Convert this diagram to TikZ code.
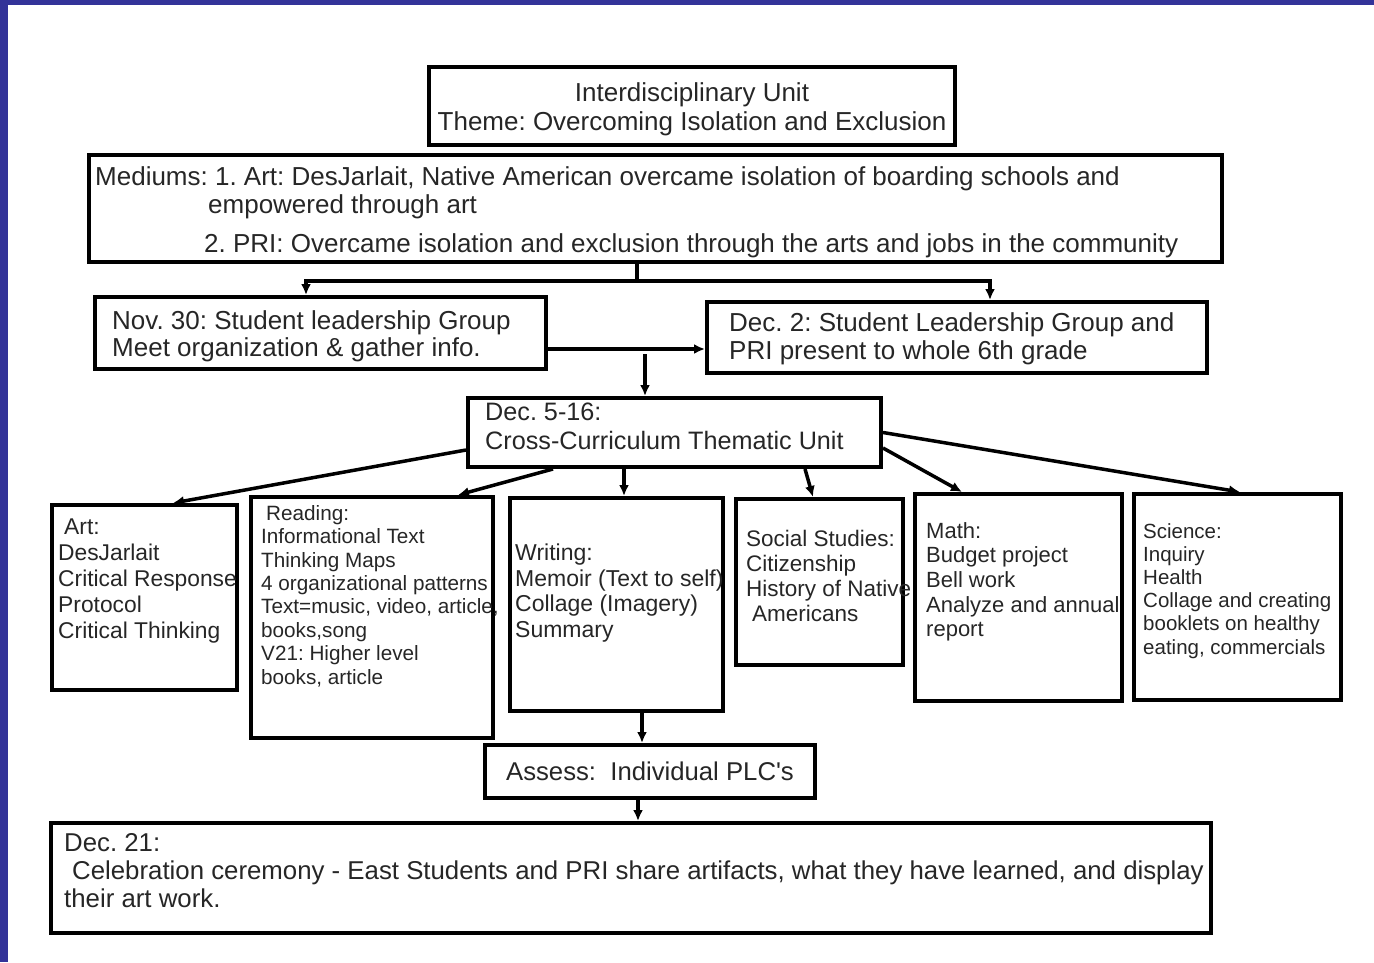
\documentclass[tikz,border=0pt]{standalone}
\usepackage{fontspec}
\setmainfont{Liberation Sans}
\usetikzlibrary{arrows.meta}
\definecolor{slideblue}{RGB}{51,51,153}
\newcommand{\fs}[2]{\fontsize{#1pt}{#2pt}\selectfont}
\frenchspacing

\begin{document}
\begin{tikzpicture}[x=1pt,y=-1pt]
\tikzstyle{every node}+=[inner sep=0pt]
\tikzstyle{box}=[draw, rectangle, line width=4pt]
\tikzstyle{txt}=[anchor=north west, align=left, text=black!85]
\tikzstyle{link}=[line width=3.5pt]
\tikzstyle{arr}=[line width=3.5pt, -{Latex[length=11pt,width=10pt]}]
\useasboundingbox (0,0) rectangle (1374,962);
\fill [slideblue] (0,0) rectangle (8,962);
\fill [slideblue] (0,0) rectangle (1374,5);
\node [box, minimum width=526pt, minimum height=78pt, label={[txt, anchor=north, align=center, yshift=-17pt, font=\fs{26}{29}]north:{Interdisciplinary Unit\\Theme: Overcoming Isolation and Exclusion}}] (title) at (692,106) {};
\node [box, minimum width=1133pt, minimum height=107pt, label={[txt, xshift=8pt, yshift=-13pt, font=\fs{26}{28}]north west:{Mediums: 1. Art: DesJarlait, Native American overcame isolation of boarding schools and\\\hspace*{113pt}empowered through art\\[11pt]\hspace*{109pt}2. PRI: Overcame isolation and exclusion through the arts and jobs in the community}}] (medi) at (655.5,208.5) {};
\node [box, minimum width=451pt, minimum height=72pt, label={[txt, xshift=19pt, yshift=-15pt, font=\fs{26}{27.5}]north west:{Nov. 30: Student leadership Group\\Meet organization \& gather info.}}] (nov) at (320.5,333) {};
\node [box, minimum width=500pt, minimum height=71pt, label={[txt, xshift=24pt, yshift=-12pt, font=\fs{26}{28.5}]north west:{Dec. 2: Student Leadership Group and\\PRI present to whole 6th grade}}] (dec2) at (957,337.5) {};
\node [box, minimum width=413pt, minimum height=69pt, label={[txt, xshift=19pt, yshift=-7pt, font=\fs{25.2}{29}]north west:{Dec. 5-16:\\Cross-Curriculum Thematic Unit}}] (dec5) at (674.5,432.5) {};
\node [box, minimum width=185pt, minimum height=185pt, label={[txt, xshift=8pt, yshift=-16pt, font=\fs{22.8}{26}]north west:{\hspace*{6pt}Art:\\DesJarlait\\Critical Response\\Protocol\\Critical Thinking}}] (art) at (144.5,597.5) {};
\node [box, minimum width=242pt, minimum height=241pt, label={[txt, xshift=12pt, yshift=-10pt, font=\fs{20.7}{23.4}]north west:{\hspace*{5pt}Reading:\\Informational Text\\Thinking Maps\\4 organizational patterns\\Text=music, video, article,\\books,song\\V21: Higher level\\books, article}}] (read) at (372,617.5) {};
\node [box, minimum width=213pt, minimum height=213pt, label={[txt, xshift=7pt, yshift=-48pt, font=\fs{23}{25.5}]north west:{Writing:\\Memoir (Text to self)\\Collage (Imagery)\\Summary}}] (writ) at (616.5,604.5) {};
\node [box, minimum width=167pt, minimum height=166pt, label={[txt, xshift=12pt, yshift=-33pt, font=\fs{22.5}{25}]north west:{Social Studies:\\Citizenship\\History of Native\\\hspace*{6pt}Americans}}] (soc) at (819.5,582) {};
\node [box, minimum width=207pt, minimum height=207pt, label={[txt, xshift=13pt, yshift=-30pt, font=\fs{22}{24.7}]north west:{Math:\\Budget project\\Bell work\\Analyze and annual\\report}}] (math) at (1018.5,597.5) {};
\node [box, minimum width=207pt, minimum height=206pt, label={[txt, xshift=11pt, yshift=-31pt, font=\fs{20.5}{23.2}]north west:{Science:\\Inquiry\\Health\\Collage and creating\\booklets on healthy\\eating, commercials}}] (sci) at (1237.5,597) {};
\node [box, minimum width=330pt, minimum height=53pt, text=black!85, font=\fs{25.7}{29}] (assess) at (650,771.5) {Assess:\ \ Individual PLC\textquotesingle s};
\node [box, minimum width=1160pt, minimum height=110pt, label={[txt, xshift=15pt, yshift=-12pt, font=\fs{25.8}{28}]north west:{Dec. 21:\\\hspace*{8pt}Celebration ceremony - East Students and PRI share artifacts, what they have learned, and display\\their art work.}}] (dec21) at (631,878) {};
\coordinate (split) at (637,281);
\draw [link] (medi.south -| split) -- (split);
\draw [arr] (split) -| ([xshift=-14.5pt]nov.north);
\draw [arr] (split) -| ([xshift=33pt]dec2.north);
\coordinate (junc) at ([yshift=-16pt]nov.east);
\draw [arr] (junc) -- (junc -| dec2.west);
\coordinate (drop) at (645,354);
\draw [arr] (drop) -- (drop |- dec5.north);
\draw [arr] ([yshift=-17.5pt]dec5.west) -- ([xshift=28.5pt]art.north);
\draw [arr] ([xshift=-121.5pt]dec5.south) -- ([xshift=86pt]read.north);
\coordinate (wtop) at ([xshift=-50.5pt]dec5.south);
\draw [arr] (wtop) -- (wtop |- writ.north);
\draw [arr] ([xshift=130.5pt]dec5.south) -- ([xshift=-6.5pt]soc.north);
\draw [arr] ([yshift=-15.5pt]dec5.east) -- ([xshift=-56.5pt]math.north);
\draw [arr] (dec5.east) -- ([xshift=2.5pt]sci.north);
\coordinate (wbot) at ([xshift=25.5pt]writ.south);
\draw [arr] (wbot) -- (wbot |- assess.north);
\coordinate (abot) at ([xshift=-12pt]assess.south);
\draw [arr] (abot) -- (abot |- dec21.north);
\end{tikzpicture}
\end{document}
